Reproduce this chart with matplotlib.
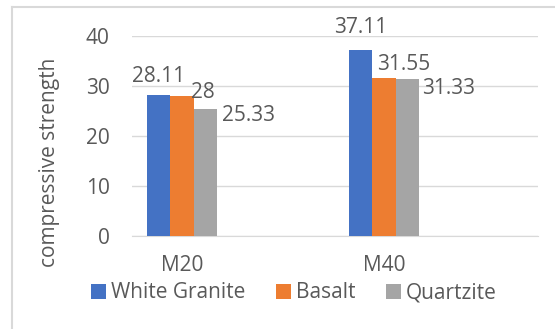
import numpy as np
import matplotlib.pyplot as plt
from matplotlib.lines import Line2D

categories = ["M20", "M40"]
series_names = ["White Granite", "Basalt", "Quartzite"]
white_granite = [28.11, 37.11]
basalt = [28, 31.55]
quartzite = [25.33, 31.33]
value_labels = [["28.11", "37.11"], ["28", "31.55"], ["25.33", "31.33"]]
y_ticks = [0, 10, 20, 30, 40]

colors = ["#4472C4", "#ED7D31", "#A5A5A5"]
# pixel offsets of each data label from its bar top (series, category)
label_offsets = [[(0, 19), (0, 23)], [(21, 3), (20, 14)], [(43, -6), (42, -9)]]

plt.rcParams['font.family'] = ['Open Sans', 'DejaVu Sans']
text_col = "#595959"
fs = 15

fig = plt.figure(figsize=(5.55, 3.29), dpi=100)
ax = fig.add_axes([132/555, 1-236/329, (538-132)/555, 200/329])

x = np.arange(len(categories))
w = 0.114
values = [white_granite, basalt, quartzite]
for i, (name, vals) in enumerate(zip(series_names, values)):
    bars = ax.bar(x + (i-1)*w, vals, w, color=colors[i], label=name, zorder=3)
    for j, b in enumerate(bars):
        dx, dy = label_offsets[i][j]
        ax.annotate(value_labels[i][j], (b.get_x() + b.get_width()/2, b.get_height()),
                    xytext=(dx, dy), textcoords='offset pixels',
                    ha='center', va='center', fontsize=fs, color=text_col)

ax.set_xlim(-50/202, 356/202)
ax.set_ylim(0, 40)
ax.set_yticks(y_ticks)
ax.set_xticks(x)
ax.set_xticklabels(categories)
ax.yaxis.grid(True, color="#d9d9d9", linewidth=1)
ax.set_axisbelow(True)
for s in ["top", "right", "left"]:
    ax.spines[s].set_visible(False)
ax.spines["bottom"].set_color("#d9d9d9")
ax.tick_params(axis='both', length=0, labelsize=fs, colors=text_col)
ax.tick_params(axis='y', pad=16)
ax.tick_params(axis='x', pad=14)

fig.text(50/555, 1-162/329, "compressive strength", rotation=90, ha='center', va='center',
         fontsize=fs, color=text_col)

fig.legend(loc='center', bbox_to_anchor=(294/555, 1-293/329), ncol=3, frameon=False,
           fontsize=fs, handlelength=0.72, handleheight=0.72, handletextpad=0.25,
           columnspacing=1.45, labelcolor=text_col)

# chart frame (top and left edges visible)
fig.add_artist(Line2D([12/555, 1], [1-7/329, 1-7/329], color="#d9d9d9", linewidth=1.5))
fig.add_artist(Line2D([12/555, 12/555], [0, 1-7/329], color="#d9d9d9", linewidth=1.5))

fig.savefig("out.png", dpi=100)
